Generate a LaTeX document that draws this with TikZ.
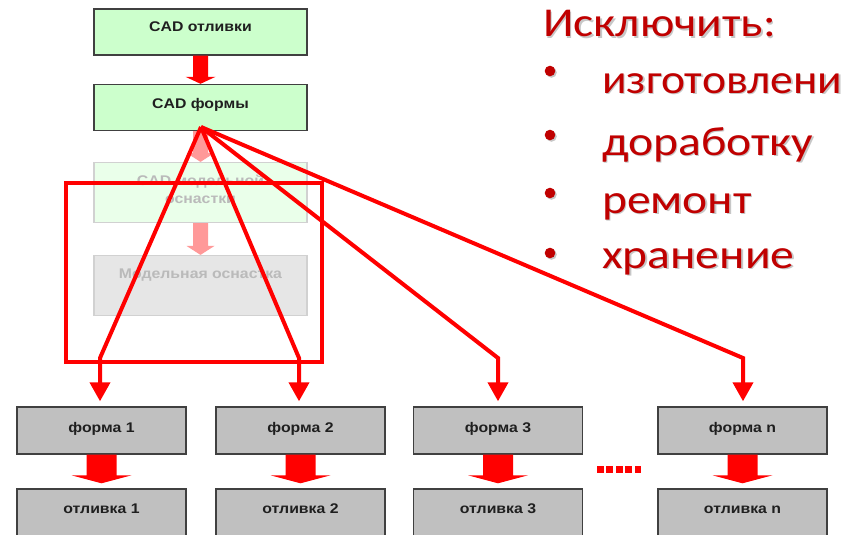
\documentclass[tikz,border=0pt]{standalone}
\usepackage{fontspec}
\setmainfont{Liberation Sans}
\newfontfamily\calib{Carlito}
\usetikzlibrary{arrows.meta,calc}
\definecolor{cadgreen}{HTML}{CCFFCC}
\definecolor{fadegreen}{HTML}{EAFFEA}
\definecolor{fadegray}{HTML}{E6E6E6}
\definecolor{boxgray}{HTML}{C0C0C0}
\definecolor{boxline}{HTML}{404040}
\definecolor{darkred}{HTML}{C00000}
\newcommand\sx[1]{\scalebox{1.13}[1]{#1}}
\newcommand\bx[1]{\scalebox{1.16}[1]{#1}}
\newcommand\fatarr[6]{%
  \fill[#6] ([xshift=-#3]#1.south) -- ([xshift=#3]#1.south)
    -- ([xshift=#3,yshift=#5]#2.north) -- ([xshift=#4,yshift=#5]#2.north)
    -- (#2.north) -- ([xshift=-#4,yshift=#5]#2.north)
    -- ([xshift=-#3,yshift=#5]#2.north) -- cycle;}
\newcommand\fatarrg[7]{%
  \fill[#6] ([xshift=-#3]#1.south) -- ([xshift=#3]#1.south)
    -- ([xshift=#3,yshift=#5+#7]#2.north) -- ([xshift=#4,yshift=#5+#7]#2.north)
    -- ([yshift=#7]#2.north) -- ([xshift=-#4,yshift=#5+#7]#2.north)
    -- ([xshift=-#3,yshift=#5+#7]#2.north) -- cycle;}
\tikzset{
  cadbox/.style={draw=boxline, line width=1.4pt, fill=cadgreen, minimum width=213pt, minimum height=46pt, inner sep=0pt},
  fadebox/.style={draw=black!18, line width=1.2pt, minimum width=213pt, minimum height=60pt, inner sep=0pt},
  graybox/.style={draw=boxline, line width=1.4pt, fill=boxgray, minimum width=169pt, minimum height=47pt, inner sep=0pt},
  lbl/.style={font=\bfseries\fontsize{14}{16}\selectfont, text=black!88, inner sep=0pt, anchor=base},
  fadelbl/.style={font=\bfseries\fontsize{14}{16}\selectfont, text=black!27, inner sep=0pt, anchor=base},
  redline/.style={draw=red, line width=4pt, line join=miter},
  redarr/.style={redline, -{Triangle[width=20pt,length=19pt]}},
  bigtxt/.style={font=\calib\fontsize{41}{44}\selectfont, text=darkred, inner sep=0pt, anchor=base west},
  shadowtxt/.style={font=\calib\fontsize{41}{44}\selectfont, text=black!22, inner sep=0pt, anchor=base west},
}
\begin{document}
\begin{tikzpicture}[x=1pt,y=-1pt]
\clip (0,0) rectangle (844,535);
\fill[white] (0,0) rectangle (844,535);
% top CAD boxes
\node[cadbox] (cado) at (200.5,32) {};
\node[lbl] (cadot) at (200.5,31.5) {\sx{CAD отливки}};
\node[cadbox] (cadf) at (200.5,107.5) {};
\node[lbl] (cadft) at (200.5,109) {\sx{CAD формы}};
\fatarr{cado}{cadf}{7.5pt}{15pt}{7pt}{red}
% faded boxes
\node[fadebox, fill=fadegreen] (cadm) at (200.5,192.5) {};
\node[fadelbl] (cadmt1) at (200.5,185) {\sx{CAD модельной}};
\node[fadelbl] (cadmt2) at (200.5,203) {\sx{оснастки}};
\node[fadebox, fill=fadegray] (mod) at (200.5,285.5) {};
\node[fadelbl] (modt) at (200.5,278) {\sx{Модельная оснастка}};
\fatarr{cadf}{cadm}{7.5pt}{14pt}{9pt}{red!40}
\fatarr{cadm}{mod}{7.5pt}{14pt}{9pt}{red!40}
% bottom boxes
\node[graybox] (f1) at (101.5,430.5) {};
\node[graybox] (f2) at (300.5,430.5) {};
\node[graybox] (f3) at (498,430.5) {};
\node[graybox] (fn) at (742.5,430.5) {};
\node[graybox, minimum height=60pt] (o1) at (101.5,519) {};
\node[graybox, minimum height=60pt] (o2) at (300.5,519) {};
\node[graybox, minimum height=60pt] (o3) at (498,519) {};
\node[graybox, minimum height=60pt] (on) at (742.5,519) {};
\node[lbl] (f1t) at (101.5,432) {\sx{форма 1}};
\node[lbl] (f2t) at (300.5,432) {\sx{форма 2}};
\node[lbl] (f3t) at (498,432) {\sx{форма 3}};
\node[lbl] (fnt) at (742.5,432) {\sx{форма  n}};
\node[lbl] (o1t) at (101.5,513) {\sx{отливка 1}};
\node[lbl] (o2t) at (300.5,513) {\sx{отливка 2}};
\node[lbl] (o3t) at (498,513) {\sx{отливка 3}};
\node[lbl] (ont) at (742.5,513) {\sx{отливка n}};
\fatarrg{f1}{o1}{15pt}{30pt}{8pt}{red}{5pt}
\fatarrg{f2}{o2}{15pt}{30pt}{8pt}{red}{5pt}
\fatarrg{f3}{o3}{15pt}{30pt}{8pt}{red}{5pt}
\fatarrg{fn}{on}{15pt}{30pt}{8pt}{red}{5pt}
% dots
\foreach \i in {0,...,4} \fill[red] (597+\i*9.4,466) rectangle ++(6.8,6.5);
% red lines
\coordinate (apex) at (201,127);
\coordinate (b1) at (100,358);
\coordinate (b2) at (299,358);
\coordinate (b3) at (498,358);
\coordinate (bn) at (743,358);
\draw[redarr] (apex) -- (b1) -- ([yshift=5pt]f1.north -| b1);
\draw[redarr] (apex) -- (b2) -- ([yshift=5pt]f2.north -| b2);
\draw[redarr] (apex) -- (b3) -- ([yshift=5pt]f3.north -| b3);
\draw[redarr] (apex) -- (bn) -- ([yshift=5pt]fn.north -| bn);
\draw[draw=red, line width=3.5pt] (66,183) rectangle (322,362);
% right text
\foreach \t/\xx/\yy in {{Исключить:}/543/37, {доработку}/602/155, {ремонт}/602/213, {хранение}/602/268}{
  \node[shadowtxt] at (\xx+1.5,\yy+1.5) {\bx{\t}};
  \node[bigtxt] at (\xx,\yy) {\bx{\t}};
}
\node[shadowtxt] (izs) at (603.5,94.5) {\scalebox{1.11}[1]{изготовлени}};
\node[bigtxt] (iz) at (602,93) {\scalebox{1.11}[1]{изготовлени}};
\foreach \yy in {71,135,193,253}{
  \fill[black!22] (551.5,\yy+1.5) circle (5.3);
  \fill[darkred] (550,\yy) circle (5.3);
}
\end{tikzpicture}
\end{document}
